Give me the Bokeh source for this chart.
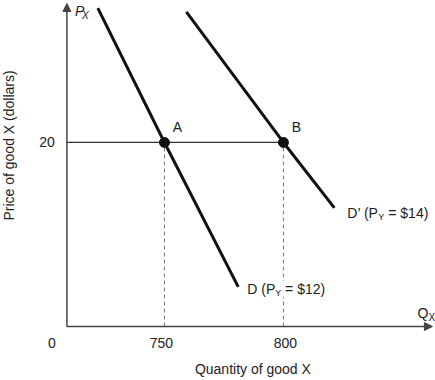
import math
from bokeh.plotting import figure
from bokeh.models import Arrow, NormalHead, Range1d
from bokeh.core.properties import value
from bokeh.embed import file_html
from bokeh.resources import INLINE

# ---- data ----
d_q = [722.0, 750.0, 781.0]          # demand D (P_Y = $12)
d_p = [34.6, 20.0, 4.3]
d2_q = [759.2, 800.0, 821.4]         # demand D' (P_Y = $14)
d2_p = [34.2, 20.0, 12.9]
pt_q = [750, 800]                    # equilibrium points A, B
pt_p = [20, 20]
pt_names = ["A", "B"]
price_level = 20
x_ticks = [750, 800]
x_tick_labels = ["750", "800"]

# ---- layout constants ----
Q_AX = 709.0      # where the axes cross
Q_AX_END = 862.6
P_AX_END = 35.1
FONT = "Liberation Sans"
TXT = "#222222"
NB = "\u00a0"

p = figure(width=435, height=380, x_range=Range1d(681.1, 863.9), y_range=Range1d(-5.87, 35.43),
           x_axis_type=None, y_axis_type=None, toolbar_location=None, output_backend="svg",
           min_border=0)
p.grid.visible = False
p.outline_line_color = None
p.background_fill_color = "white"
p.border_fill_color = "white"

# axes with arrows
ax_col = "#444444"
p.add_layout(Arrow(end=NormalHead(size=8, fill_color=ax_col, line_color=ax_col, line_width=1),
                   x_start=Q_AX, y_start=0, x_end=Q_AX, y_end=P_AX_END,
                   line_color=ax_col, line_width=1.5))
p.add_layout(Arrow(end=NormalHead(size=8, fill_color=ax_col, line_color=ax_col, line_width=1),
                   x_start=Q_AX, y_start=0, x_end=Q_AX_END, y_end=0,
                   line_color=ax_col, line_width=1.5))

# horizontal price line at 20
p.line([Q_AX, pt_q[1]], [price_level, price_level], line_color="#333333", line_width=1.2)

# dashed verticals
for q in pt_q:
    p.line([q, q], [0, price_level], line_color="#777777", line_width=1, line_dash="4 3")

# demand curves
p.line(d_q, d_p, line_color="#111111", line_width=3)
p.line(d2_q, d2_p, line_color="#111111", line_width=3)

# points
p.scatter(pt_q, pt_p, size=10, fill_color="#111111", line_color="#111111")

def txt(x, y, s, xo=0, yo=0, size=14, align="center", style="normal", angle=0.0, bg=None):
    kw = {}
    if bg:
        kw["background_fill_color"] = bg
    p.text(x=[x], y=[y], text=[s], x_offset=xo, y_offset=yo, angle=angle,
           text_font=value(FONT), text_font_size=f"{size}px", text_font_style=style,
           text_color=TXT, text_align=align, text_baseline="middle", **kw)

# point labels
for q, pr, n in zip(pt_q, pt_p, pt_names):
    txt(q, pr, n, xo=13, yo=-15)

# tick labels
txt(Q_AX, 0, "0", xo=-15, yo=17)
for q, lab, xo in zip(x_ticks, x_tick_labels, [-3, 2]):
    txt(q, 0, lab, xo=xo, yo=17)
txt(Q_AX, price_level, "20", xo=-12, yo=0, align="right")

# axis symbols
txt(Q_AX, P_AX_END, "P", xo=8, yo=7, align="left", style="italic")
txt(Q_AX, P_AX_END, "X", xo=15, yo=12, size=10, align="left", style="italic")
txt(Q_AX_END, 0, "Q", xo=-15, yo=-13, align="left")
txt(Q_AX_END, 0, "X", xo=-4, yo=-9, size=10, align="left")

# curve labels
txt(d2_q[-1], d2_p[-1], "D’ (P", xo=13, yo=5, align="left")
txt(d2_q[-1], d2_p[-1], "Y", xo=44, yo=9, size=9, align="left")
txt(d2_q[-1], d2_p[-1], NB + "=" + NB + "$14)", xo=50, yo=5, align="left")
txt(d_q[-1], d_p[-1], NB + "=" + NB + "$12)", xo=43, yo=2, align="left", bg="white")
txt(d_q[-1], d_p[-1], "D (P", xo=9, yo=2, align="left")
txt(d_q[-1], d_p[-1], "Y", xo=37, yo=6, size=9, align="left", bg="white")

# axis titles
txt(Q_AX, 0, "Quantity of good X", xo=186, yo=43, size=14)
txt(Q_AX, price_level, "Price of good X (dollars)", xo=-58, yo=3, size=14, angle=math.pi / 2)

open("out.html", "w").write(file_html(p, INLINE))
